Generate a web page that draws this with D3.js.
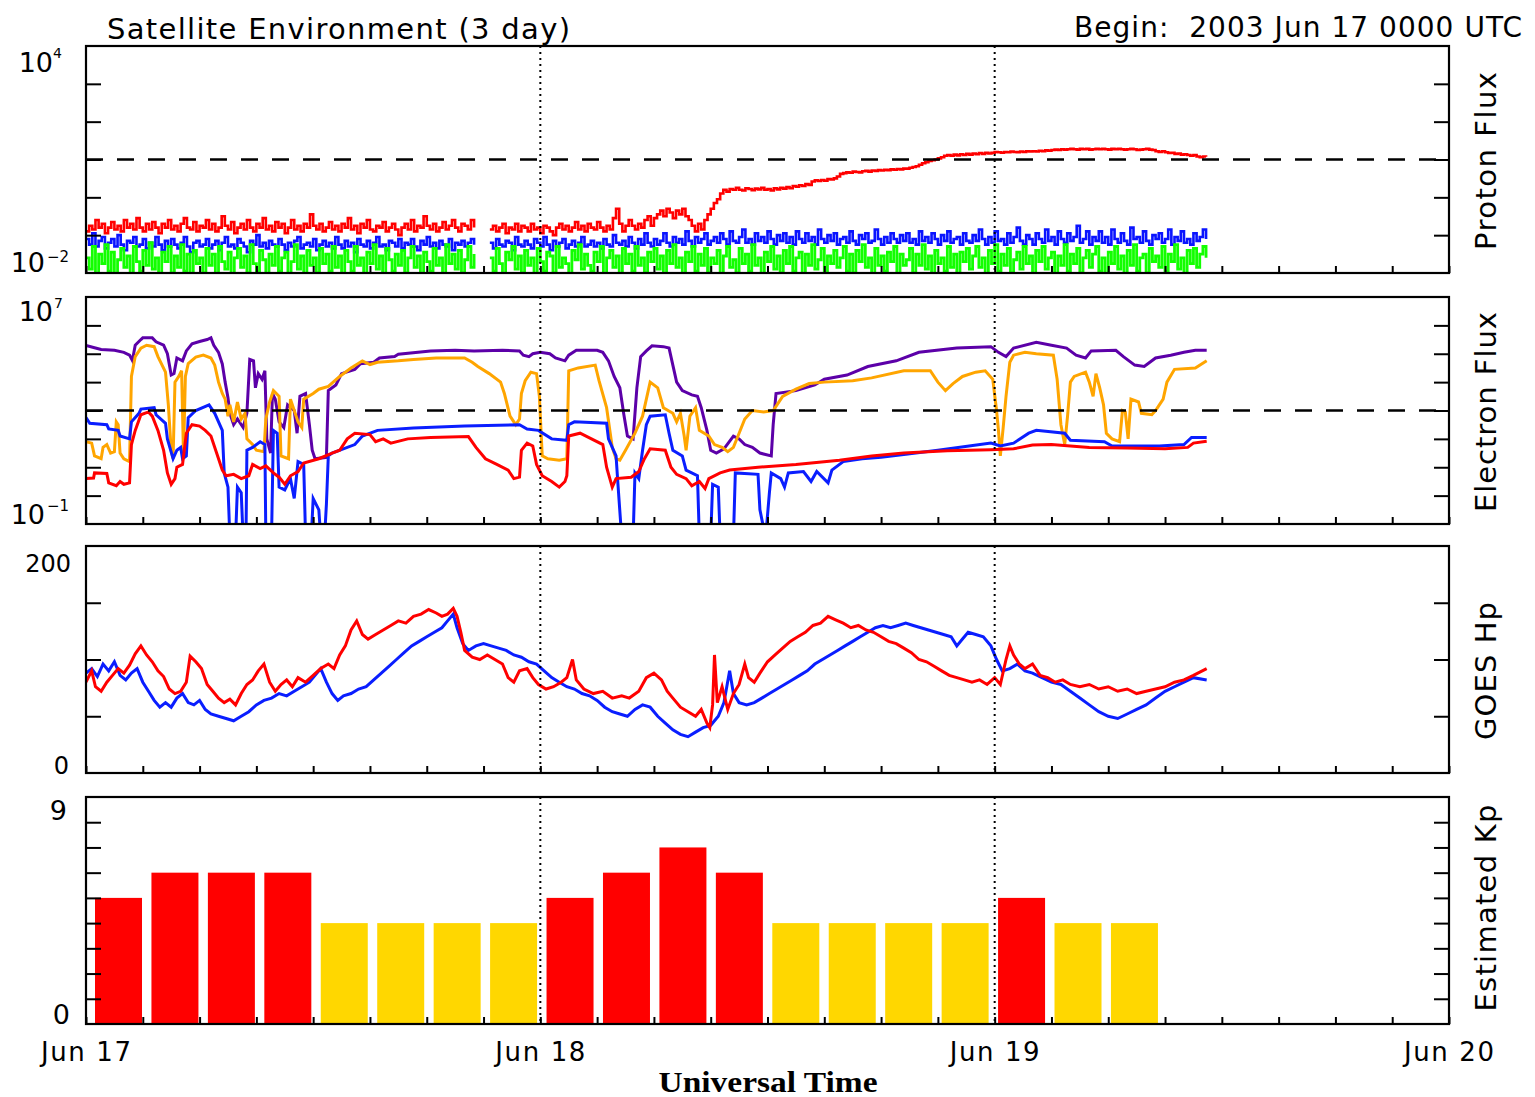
<!DOCTYPE html>
<html><head><meta charset="utf-8">
<script src="https://cdn.jsdelivr.net/npm/d3@7"></script>
<style>
body{margin:0;background:#fff}
svg{display:block}
text{fill:#000}
</style>
</head><body>
<svg id="c" width="1535" height="1097"></svg>
<script>
// ---------------- DATA ----------------
// Proton flux (log10 pfu), sampled every 10 minutes from Jun 17 00:00 UTC
const protonStepHours = 1/6;
const protonRedLog = [
-0.9,-0.75,-0.85,-0.6,-0.8,-0.7,-0.95,-0.8,-0.65,-0.85,-0.75,-0.9,-0.6,-0.8,-0.7,-0.85,-0.55,-0.8,-0.9,-0.7,
-0.85,-0.65,-0.8,-0.95,-0.7,-0.8,-0.6,-0.85,-0.75,-0.9,-0.7,-0.55,-0.8,-0.85,-0.65,-0.9,-0.75,-0.8,-0.6,-0.85,
-0.7,-0.9,-0.8,-0.5,-0.75,-0.85,-0.65,-0.95,-0.8,-0.7,-0.85,-0.6,-0.8,-0.9,-0.7,-0.8,-0.55,-0.85,-0.75,-0.9,
-0.65,-0.8,-0.7,-0.95,-0.8,-0.6,-0.85,-0.75,-0.9,-0.7,-0.8,-0.45,-0.75,-0.85,-0.7,-0.9,-0.8,-0.65,-0.85,-0.75,
-0.9,-0.7,-0.8,-0.55,-0.85,-0.75,-0.95,-0.7,-0.8,-0.6,-0.85,-0.9,-0.75,-0.8,-0.65,-0.9,-0.8,-0.7,-0.85,-1.0,
-0.8,-0.7,-0.85,-0.6,-0.9,-0.75,-0.8,-0.5,-0.75,-0.85,-0.7,-0.9,-0.8,-0.65,-0.85,-0.75,-0.6,-0.8,-0.9,-0.7,
-0.75,-0.85,-0.6,-0.8,null,null,null,null,-0.85,-0.75,-0.9,-0.8,-0.7,-0.95,-0.8,-0.85,-0.7,-0.9,-0.75,-0.8,
-0.9,-0.7,-0.85,-0.8,-0.95,-0.75,-0.8,-0.9,-1.0,-0.8,-0.7,-0.85,-0.75,-0.9,-0.8,-0.65,-0.85,-0.75,-0.9,-0.7,
-0.8,-0.85,-0.65,-0.8,-0.9,-0.75,-0.85,-0.55,-0.3,-0.7,-0.9,-0.75,-0.6,-0.75,-0.85,-0.7,-0.8,-0.6,-0.5,-0.75,
-0.55,-0.45,-0.35,-0.5,-0.3,-0.4,-0.55,-0.35,-0.45,-0.3,-0.5,-0.6,-0.75,-0.9,-0.7,-0.85,-0.6,-0.45,-0.3,-0.15,
-0.05,0.1,0.2,0.15,0.22,0.2,0.25,0.2,0.18,0.24,0.22,0.19,0.23,0.21,0.25,0.2,0.22,0.18,0.24,0.21,
0.25,0.23,0.27,0.24,0.3,0.28,0.32,0.3,0.35,0.33,0.42,0.45,0.43,0.46,0.44,0.48,0.47,0.5,0.55,0.62,
0.64,0.66,0.65,0.68,0.67,0.66,0.69,0.7,0.68,0.71,0.7,0.72,0.71,0.73,0.72,0.74,0.73,0.75,0.74,0.76,
0.76,0.78,0.8,0.82,0.86,0.9,0.93,0.96,0.98,1.0,1.03,1.06,1.1,1.12,1.1,1.13,1.11,1.14,1.12,1.15,
1.13,1.16,1.14,1.17,1.15,1.18,1.16,1.18,1.2,1.19,1.18,1.2,1.19,1.21,1.2,1.19,1.21,1.2,1.22,1.21,
1.22,1.21,1.23,1.22,1.24,1.23,1.25,1.26,1.25,1.27,1.26,1.27,1.28,1.27,1.26,1.28,1.27,1.28,1.26,1.27,
1.28,1.27,1.28,1.27,1.26,1.28,1.27,1.28,1.27,1.26,1.27,1.28,1.27,1.25,1.26,1.27,1.28,1.26,1.25,1.22,
1.2,1.22,1.19,1.17,1.18,1.15,1.16,1.13,1.14,1.12,1.1,1.12,1.08,1.06,1.08,1.07];
const protonBlueLog = [
-1.1,-1.25,-0.95,-1.3,-1.15,-1.05,-1.35,-1.2,-1.1,-1.3,-1.0,-1.25,-1.4,-1.15,-1.2,-1.05,-1.3,-1.25,-1.1,-1.35,
-1.2,-1.3,-1.05,-1.25,-1.4,-1.15,-1.3,-1.1,-1.25,-1.35,-1.2,-1.05,-1.3,-1.45,-1.2,-1.15,-1.3,-1.25,-1.1,-1.35,
-1.25,-1.15,-1.4,-1.2,-1.05,-1.3,-1.25,-1.35,-1.1,-1.2,-1.3,-1.45,-1.15,-1.25,-1.0,-1.3,-1.2,-1.35,-1.15,-1.25,
-1.3,-1.1,-1.25,-1.4,-1.2,-1.3,-1.15,-1.05,-1.35,-1.25,-1.2,-1.3,-1.1,-1.4,-1.25,-1.15,-1.3,-1.2,-1.35,-1.05,
-1.25,-1.35,-1.15,-1.3,-1.2,-1.45,-1.1,-1.25,-1.3,-1.15,-1.35,-1.2,-1.05,-1.3,-1.25,-1.4,-1.15,-1.2,-1.3,-1.1,
-1.35,-1.2,-1.25,-1.1,-1.3,-1.4,-1.15,-1.25,-1.05,-1.3,-1.2,-1.35,-1.15,-1.25,-1.3,-1.1,-1.4,-1.2,-1.25,-1.15,
-1.3,-1.2,-1.1,-1.25,null,null,null,null,-1.2,-1.35,-1.1,-1.25,-1.3,-1.15,-1.2,-1.4,-1.05,-1.25,-1.3,-1.15,
-1.25,-1.35,-1.1,-1.2,-1.3,-1.05,-1.25,-1.4,-1.15,-1.3,-1.2,-1.1,-1.35,-1.25,-1.15,-1.3,-1.2,-1.05,-1.3,-1.25,
-1.15,-1.3,-1.2,-1.35,-1.1,-1.25,-1.3,-1.0,-1.2,-1.25,-1.15,-1.3,-1.05,-1.2,-1.35,-1.1,-1.25,-0.95,-1.2,-1.3,
-1.1,-1.25,-1.15,-0.95,-1.2,-1.3,-1.05,-1.2,-1.1,-1.25,-0.9,-1.15,-1.3,-1.05,-1.2,-1.1,-0.95,-1.25,-1.15,-1.05,
-1.2,-0.95,-1.1,-1.25,-0.9,-1.15,-1.2,-1.05,-0.85,-1.2,-1.1,-1.25,-0.95,-1.15,-1.05,-1.2,-0.9,-1.1,-1.25,-1.0,
-1.15,-0.95,-1.2,-1.05,-1.25,-0.9,-1.1,-1.2,-0.95,-1.15,-1.05,-1.25,-0.85,-1.1,-1.2,-1.0,-1.15,-0.95,-1.25,-1.1,
-1.05,-1.2,-0.9,-1.15,-1.25,-1.0,-1.1,-0.95,-1.2,-1.15,-0.85,-1.1,-1.25,-1.05,-1.2,-0.95,-1.1,-1.2,-1.0,-1.15,
-0.95,-1.2,-1.1,-1.25,-0.9,-1.15,-1.05,-1.2,-0.95,-1.1,-1.25,-1.0,-1.15,-0.9,-1.2,-1.1,-1.05,-1.25,-0.95,-1.15,
-1.2,-1.0,-1.15,-0.85,-1.1,-1.25,-1.05,-1.2,-0.9,-1.15,-1.1,-1.25,-0.95,-1.2,-1.05,-0.8,-1.15,-1.25,-1.0,-1.1,
-1.25,-0.95,-1.1,-1.2,-0.85,-1.15,-1.05,-1.25,-0.9,-1.1,-1.2,-0.95,-1.15,-1.05,-0.75,-1.2,-1.1,-0.9,-1.25,-1.05,
-1.15,-0.9,-1.2,-1.05,-1.25,-0.85,-1.1,-1.2,-0.95,-1.15,-1.25,-0.8,-1.1,-1.05,-1.2,-0.9,-1.15,-1.25,-1.0,-1.1,
-0.95,-1.2,-1.1,-0.85,-1.25,-1.05,-1.15,-0.9,-1.2,-1.1,-1.25,-0.95,-1.15,-1.05,-0.85,-1.1];
const protonGreenLog = [
-1.6,-1.9,-1.3,-2.1,-1.5,-1.75,-1.25,-1.95,-1.45,-2.2,-1.65,-1.35,-1.85,-1.55,-2.05,-1.3,-1.7,-1.95,-1.4,-1.8,
-1.2,-1.9,-1.6,-2.1,-1.45,-1.7,-1.3,-2.0,-1.55,-1.85,-1.25,-1.95,-1.5,-2.15,-1.4,-1.75,-1.6,-2.0,-1.35,-1.8,
-1.5,-2.05,-1.3,-1.7,-1.9,-1.45,-2.2,-1.6,-1.35,-1.85,-1.55,-2.0,-1.25,-1.75,-1.95,-1.4,-1.65,-2.1,-1.5,-1.8,
-1.3,-1.95,-1.6,-1.45,-2.05,-1.7,-1.25,-1.9,-1.55,-2.15,-1.4,-1.8,-1.6,-2.0,-1.35,-1.75,-1.5,-1.95,-1.3,-1.85,
-1.55,-2.1,-1.4,-1.7,-1.95,-1.3,-1.8,-1.6,-2.05,-1.45,-1.75,-1.25,-1.9,-1.55,-2.2,-1.35,-1.65,-1.95,-1.5,-1.8,
-1.4,-2.0,-1.6,-1.3,-1.85,-1.55,-2.1,-1.45,-1.7,-1.95,-1.35,-1.8,-1.6,-2.05,-1.25,-1.75,-1.5,-1.9,-1.4,-2.0,
-1.65,-1.3,-1.85,-1.5,null,null,null,null,-1.6,-1.95,-1.35,-1.75,-2.1,-1.45,-1.65,-1.3,-1.9,-1.55,-2.0,-1.4,
-1.8,-1.6,-2.15,-1.35,-1.7,-1.95,-1.45,-1.55,-2.0,-1.3,-1.85,-1.6,-1.75,-2.1,-1.4,-1.65,-1.25,-1.9,-1.5,-1.8,
-1.95,-1.45,-1.7,-1.3,-2.05,-1.6,-1.4,-1.85,-1.55,-2.2,-1.35,-1.75,-1.5,-1.95,-1.3,-1.8,-1.6,-2.0,-1.45,-1.7,
-1.35,-1.9,-1.55,-2.05,-1.4,-1.75,-1.25,-1.85,-1.6,-2.1,-1.45,-1.7,-1.3,-1.95,-1.5,-1.8,-1.35,-2.0,-1.6,-1.75,
-1.4,-2.1,-1.55,-1.3,-1.85,-1.65,-2.0,-1.35,-1.75,-1.5,-1.95,-1.25,-1.8,-1.6,-2.15,-1.45,-1.7,-1.3,-1.9,-1.55,
-2.0,-1.4,-1.75,-1.3,-1.95,-1.6,-1.45,-2.05,-1.5,-1.8,-1.25,-1.9,-1.65,-1.35,-2.1,-1.55,-1.75,-1.4,-1.85,-1.6,
-1.3,-1.95,-1.5,-2.0,-1.4,-1.7,-1.25,-1.85,-1.6,-2.1,-1.35,-1.8,-1.55,-1.95,-1.45,-1.7,-1.3,-2.05,-1.5,-1.8,
-1.65,-1.35,-2.0,-1.5,-1.8,-1.25,-1.9,-1.55,-2.15,-1.4,-1.75,-1.6,-1.95,-1.3,-1.85,-1.5,-2.05,-1.45,-1.7,-1.35,
-1.9,-1.55,-1.3,-1.85,-1.6,-2.1,-1.4,-1.75,-1.25,-1.95,-1.5,-1.8,-1.35,-2.0,-1.65,-1.45,-1.9,-1.3,-1.75,-1.55,
-2.05,-1.4,-1.7,-1.3,-1.9,-1.6,-1.45,-2.1,-1.55,-1.8,-1.25,-1.95,-1.5,-1.75,-1.35,-2.0,-1.6,-1.4,-1.85,-1.5,
-1.3,-1.95,-1.6,-2.05,-1.45,-1.75,-1.3,-1.9,-1.55,-2.1,-1.4,-1.8,-1.25,-1.95,-1.6,-1.5,-2.0,-1.35,-1.7,-1.55,
-1.85,-1.3,-1.95,-1.5,-1.7,-1.25,-1.9,-1.6,-2.05,-1.4,-1.75,-1.35,-1.85,-1.5,-1.3,-1.6];

// Electron flux: [hour since Jun 17 00 UTC, log10 flux]
const electronPurple = [[0,5.29],[0.4,5.22],[0.8,5.15],[1.5,5.12],[2.0,5.05],[2.3,4.95],[2.45,4.76],[2.6,5.3],[2.9,5.5],[3.0,5.56],[3.5,5.56],[3.7,5.42],[4.1,5.3],[4.3,5.0],[4.5,4.25],[4.65,4.3],[4.8,4.85],[5.1,4.75],[5.3,5.1],[5.6,5.35],[6.0,5.43],[6.4,5.5],[6.6,5.56],[6.75,5.3],[7.0,5.05],[7.2,4.64],[7.35,4.0],[7.5,3.45],[7.6,2.9],[7.8,2.5],[8.0,2.7],[8.3,2.4],[8.5,2.9],[8.65,4.8],[8.85,4.75],[8.95,3.8],[9.1,4.3],[9.3,4.1],[9.45,4.4],[9.55,2.0],[9.75,1.5],[9.85,3.6],[10.0,3.4],[10.2,2.6],[10.45,2.4],[10.65,3.2],[11.0,3.0],[11.15,2.2],[11.3,3.5],[11.6,3.6],[11.8,2.5],[11.95,1.6],[12.1,1.3],[12.7,1.35],[12.8,3.7],[13.2,3.9],[13.5,4.3],[14.2,4.45],[14.5,4.65],[15.2,4.7],[15.5,4.85],[16.3,4.9],[16.5,4.98],[18.2,5.1],[19.5,5.12],[20.5,5.1],[22.0,5.12],[22.9,5.1],[23.1,4.95],[23.4,4.9],[23.6,5.0],[24.0,5.05],[24.5,5.0],[24.8,4.85],[25.3,4.75],[25.5,4.95],[25.9,5.12],[27.0,5.12],[27.3,5.05],[27.6,4.75],[27.9,4.2],[28.2,3.8],[28.4,2.9],[28.6,2.1],[28.9,2.0],[29.1,3.8],[29.3,4.9],[29.6,5.1],[29.9,5.28],[30.5,5.25],[30.8,5.2],[31.0,4.6],[31.2,4.0],[31.5,3.7],[32.0,3.55],[32.3,3.5],[32.5,3.1],[32.8,2.3],[33.0,1.6],[33.3,1.5],[33.7,1.65],[34.2,2.1],[34.5,2.0],[34.8,1.8],[35.2,1.7],[35.6,1.5],[36.2,1.4],[36.3,2.5],[36.45,3.6],[37.5,3.7],[38.5,3.9],[39.0,4.1],[40.2,4.25],[41.3,4.55],[42.8,4.75],[44.0,5.05],[46.0,5.2],[47.8,5.25],[48.2,5.05],[48.6,4.9],[49.0,5.2],[50.2,5.4],[51.0,5.3],[51.8,5.2],[52.3,4.95],[52.8,4.85],[53.1,5.1],[54.4,5.12],[54.8,4.9],[55.4,4.6],[55.9,4.55],[56.5,4.85],[57.3,4.95],[58.0,5.05],[58.6,5.12],[59.2,5.12]];
const electronOrange = [[0,1.9],[0.3,1.85],[0.45,1.4],[0.8,1.3],[0.9,1.7],[1.1,1.8],[1.3,1.5],[1.5,1.55],[1.6,2.6],[1.7,2.5],[1.8,1.5],[2.0,1.3],[2.3,1.2],[2.4,4.2],[2.6,4.9],[2.9,5.2],[3.2,5.3],[3.6,5.25],[3.8,4.9],[4.2,4.35],[4.35,3.2],[4.5,1.6],[4.6,1.3],[4.7,4.0],[4.9,4.2],[5.05,4.4],[5.15,1.4],[5.25,4.2],[5.4,4.65],[5.8,4.88],[6.2,4.95],[6.6,4.85],[6.8,4.6],[7.0,4.0],[7.2,3.6],[7.35,3.4],[7.5,2.8],[7.6,3.2],[7.8,2.6],[8.0,3.3],[8.2,2.7],[8.4,2.9],[8.5,2.0],[8.8,1.8],[9.0,1.6],[9.4,1.55],[9.5,2.7],[9.7,3.3],[9.9,3.7],[10.2,3.5],[10.3,1.4],[10.7,1.3],[10.8,3.4],[11.0,3.0],[11.2,2.6],[11.4,2.4],[11.5,3.4],[12.0,3.6],[12.3,3.75],[12.8,3.85],[13.4,4.2],[14.0,4.5],[14.6,4.75],[15.0,4.62],[15.4,4.7],[16.5,4.75],[17.3,4.8],[18.5,4.85],[20.0,4.85],[20.4,4.7],[20.7,4.55],[21.3,4.3],[21.9,4.0],[22.1,3.6],[22.4,2.8],[22.7,2.5],[22.9,2.7],[23.0,3.6],[23.2,4.05],[23.5,4.35],[23.8,4.3],[23.95,3.5],[24.1,1.4],[24.4,1.3],[25.0,1.25],[25.4,1.3],[25.5,4.4],[26.0,4.5],[26.9,4.6],[27.1,4.05],[27.5,3.1],[27.8,1.7],[28.0,1.3],[28.2,1.25],[28.5,1.6],[29.0,2.2],[29.4,2.8],[29.8,4.0],[30.2,3.8],[30.5,3.1],[31.0,2.9],[31.2,2.6],[31.4,2.9],[31.6,2.1],[31.7,1.6],[31.9,2.8],[32.2,3.1],[32.4,2.3],[32.9,2.1],[33.2,1.8],[33.6,1.7],[33.9,1.55],[34.2,1.7],[34.5,2.2],[34.8,2.7],[35.2,3.0],[35.8,2.95],[36.3,3.0],[36.8,3.5],[37.5,3.75],[38.2,3.95],[39.0,4.0],[40.5,4.05],[41.5,4.15],[43.2,4.4],[44.6,4.4],[45.0,4.0],[45.4,3.7],[45.8,3.95],[46.3,4.2],[47.0,4.35],[47.5,4.4],[47.9,4.1],[48.1,3.0],[48.2,2.3],[48.3,1.4],[48.45,2.4],[48.6,3.5],[48.8,4.7],[49.0,4.95],[49.6,5.05],[50.2,5.0],[51.1,4.95],[51.3,4.1],[51.5,2.5],[51.7,1.8],[51.85,2.8],[52.0,4.0],[52.2,4.2],[52.8,4.35],[53.0,4.0],[53.2,3.5],[53.35,4.3],[53.55,3.8],[53.75,3.2],[53.9,2.2],[54.2,2.0],[54.6,1.9],[54.75,3.0],[54.9,2.95],[55.05,2.0],[55.2,3.4],[55.6,3.3],[55.75,2.9],[56.3,2.85],[56.5,3.0],[56.9,3.4],[57.1,4.0],[57.5,4.45],[58.6,4.5],[59.2,4.75]];
const electronBlue = [[0,2.75],[0.2,2.55],[1.1,2.5],[1.2,2.35],[1.7,2.3],[1.8,2.1],[2.3,2.0],[2.4,2.6],[2.8,2.9],[2.9,3.05],[3.6,3.1],[3.7,2.85],[4.2,2.55],[4.3,2.0],[4.6,1.3],[4.8,1.6],[5.0,1.7],[5.1,1.3],[5.3,1.4],[5.4,2.75],[5.8,3.0],[6.5,3.2],[6.8,2.9],[7.2,2.3],[7.3,0.8],[7.5,0.3],[7.6,-1.5],[7.9,-1.5],[8.0,0.3],[8.2,0.1],[8.3,-1.5],[8.45,-1.5],[8.5,1.6],[8.8,1.7],[9.2,1.9],[9.45,1.8],[9.5,-1.5],[9.8,-1.5],[9.9,2.3],[10.1,2.2],[10.2,0.3],[10.5,0.2],[10.8,0.6],[11.0,-0.1],[11.2,1.2],[11.5,1.1],[11.6,-1.5],[11.9,-1.5],[12.0,-0.1],[12.3,-0.5],[12.4,-1.5],[12.6,-1.5],[12.7,-0.3],[12.8,1.4],[13.0,1.5],[14.2,1.8],[14.6,2.1],[15.4,2.3],[17.3,2.38],[20.0,2.45],[22.9,2.5],[23.3,2.35],[23.9,2.3],[24.6,2.0],[25.4,1.95],[25.5,2.5],[25.8,2.6],[27.5,2.55],[27.6,2.0],[28.0,1.4],[28.1,0.4],[28.3,-1.5],[28.9,-1.5],[29.0,0.8],[29.2,0.6],[29.4,1.6],[29.6,2.5],[29.8,2.8],[30.6,2.85],[30.8,2.2],[31.0,1.6],[31.5,1.4],[31.7,0.9],[32.3,0.7],[32.4,-1.5],[33.0,-1.5],[33.1,0.4],[33.4,0.3],[33.5,-1.5],[34.2,-1.5],[34.3,0.8],[35.5,0.75],[35.6,-0.5],[35.9,-1.5],[36.1,0.1],[36.2,0.8],[36.7,0.6],[36.9,0.3],[37.1,0.8],[37.9,0.85],[38.3,0.5],[38.6,0.85],[39.2,0.45],[39.4,0.9],[40.0,1.2],[41.0,1.3],[42.0,1.35],[43.2,1.45],[45.0,1.6],[47.8,1.85],[48.3,1.75],[49.0,1.85],[49.8,2.2],[50.2,2.3],[51.7,2.2],[52.0,1.95],[53.8,1.9],[54.2,1.75],[56.7,1.75],[58.0,1.8],[58.4,2.05],[59.2,2.05]];
const electronRed = [[0,0.6],[0.4,0.62],[0.45,0.8],[1.1,0.78],[1.2,0.45],[1.6,0.35],[1.8,0.5],[2.0,0.4],[2.3,0.45],[2.4,1.8],[2.6,2.3],[2.9,2.85],[3.3,2.95],[3.5,2.8],[3.8,2.3],[4.1,1.6],[4.3,0.8],[4.5,0.4],[4.7,0.6],[4.8,1.0],[5.1,1.1],[5.3,2.2],[5.6,2.5],[6.0,2.45],[6.3,2.3],[6.6,2.1],[6.9,1.5],[7.2,0.9],[7.4,0.7],[7.8,0.75],[8.2,0.6],[8.6,0.7],[8.8,1.1],[9.2,0.95],[9.5,1.05],[9.9,0.8],[10.2,0.65],[10.5,0.4],[10.8,0.7],[11.2,0.85],[11.5,1.15],[12.3,1.3],[13.0,1.5],[13.4,1.6],[13.8,2.0],[14.2,2.2],[15.0,2.15],[15.3,1.9],[15.7,2.0],[16.1,1.85],[17.0,2.0],[18.2,2.05],[20.2,2.08],[20.6,1.7],[21.1,1.3],[21.7,1.1],[22.3,0.9],[22.6,0.6],[22.9,0.65],[23.0,1.6],[23.3,1.85],[23.6,1.75],[23.8,1.1],[24.1,0.7],[24.6,0.5],[25.0,0.3],[25.3,0.5],[25.4,0.7],[25.5,2.1],[26.1,2.2],[26.7,2.0],[27.3,1.8],[27.5,1.0],[27.8,0.3],[28.0,0.6],[28.8,0.65],[29.2,0.85],[29.5,1.3],[29.8,1.65],[30.6,1.6],[30.9,1.0],[31.2,0.75],[31.7,0.6],[32.0,0.35],[32.4,0.5],[32.7,0.25],[32.9,0.6],[33.5,0.8],[34.0,0.9],[35.5,1.0],[37.5,1.1],[39.8,1.25],[41.5,1.4],[43.2,1.5],[45.5,1.58],[47.8,1.62],[49.0,1.65],[50.0,1.78],[51.0,1.8],[53.0,1.7],[55.0,1.68],[57.0,1.65],[58.2,1.7],[58.5,1.85],[59.2,1.92]];

// GOES Hp (nT): [hour, value]
const hpRed = [[0,80],[0.3,90],[0.5,76],[0.8,72],[1.1,80],[1.4,86],[1.7,92],[2.0,88],[2.3,95],[2.6,105],[2.9,112],[3.2,104],[3.5,98],[3.8,90],[4.1,85],[4.4,74],[4.7,70],[5.0,72],[5.3,80],[5.5,103],[5.8,98],[6.1,92],[6.4,78],[6.7,72],[7.0,66],[7.3,62],[7.6,65],[7.9,60],[8.2,70],[8.5,78],[8.8,82],[9.1,90],[9.4,96],[9.7,80],[10.0,72],[10.3,78],[10.6,82],[10.9,76],[11.2,84],[11.6,80],[12.0,86],[12.4,92],[12.8,96],[13.1,92],[13.4,104],[13.7,112],[14.0,126],[14.3,134],[14.6,122],[14.9,118],[15.3,122],[15.7,126],[16.1,130],[16.5,134],[16.9,132],[17.3,138],[17.7,140],[18.1,144],[18.5,141],[18.8,138],[19.1,140],[19.4,145],[19.6,138],[19.8,124],[20.0,108],[20.4,102],[20.8,100],[21.2,104],[21.6,100],[22.0,96],[22.3,84],[22.6,80],[22.9,90],[23.3,92],[23.6,84],[23.9,78],[24.3,74],[24.7,76],[25.1,80],[25.4,84],[25.7,100],[25.9,82],[26.3,74],[26.8,70],[27.3,72],[27.8,66],[28.3,68],[28.7,66],[29.2,72],[29.6,84],[30.0,88],[30.4,82],[30.7,72],[31.0,66],[31.4,58],[31.8,54],[32.2,50],[32.5,56],[32.8,44],[32.95,40],[33.1,60],[33.2,104],[33.35,62],[33.6,76],[33.9,56],[34.2,70],[34.5,78],[34.8,96],[35.0,84],[35.3,80],[35.6,88],[36.0,98],[36.4,104],[36.8,110],[37.2,116],[37.6,120],[38.0,124],[38.4,130],[38.8,132],[39.2,138],[39.6,135],[40.0,132],[40.4,128],[40.8,130],[41.2,126],[41.6,124],[42.0,120],[42.4,116],[42.8,114],[43.2,110],[43.6,106],[44.0,100],[44.4,98],[44.8,94],[45.2,90],[45.6,86],[46.0,84],[46.4,82],[46.8,80],[47.2,82],[47.6,78],[48.0,84],[48.3,78],[48.6,100],[48.8,112],[49.0,104],[49.3,96],[49.6,92],[50.0,96],[50.4,86],[50.8,84],[51.2,80],[51.6,82],[52.0,78],[52.5,76],[53.0,78],[53.5,74],[54.0,76],[54.5,72],[55.0,74],[55.5,70],[56.0,72],[56.5,74],[57.0,76],[57.5,80],[58.0,82],[58.5,86],[59.2,92]];
const hpBlue = [[0,88],[0.3,92],[0.6,85],[0.9,96],[1.2,90],[1.5,98],[1.8,86],[2.1,82],[2.4,88],[2.7,92],[3.0,80],[3.3,72],[3.6,64],[3.9,58],[4.2,62],[4.5,58],[4.8,66],[5.1,70],[5.4,62],[5.7,60],[6.0,64],[6.3,56],[6.6,52],[7.0,50],[7.4,48],[7.8,46],[8.2,50],[8.6,54],[9.0,60],[9.4,64],[9.8,66],[10.2,70],[10.6,68],[11.0,72],[11.4,76],[11.8,80],[12.1,86],[12.4,92],[12.7,80],[13.0,70],[13.3,64],[13.6,68],[14.0,70],[14.4,74],[14.8,76],[15.2,82],[15.6,88],[16.0,94],[16.4,100],[16.8,106],[17.2,112],[17.6,116],[18.0,120],[18.4,124],[18.8,128],[19.1,134],[19.4,140],[19.6,128],[19.9,114],[20.2,108],[20.6,112],[21.0,114],[21.4,112],[21.8,110],[22.2,108],[22.6,104],[23.0,102],[23.4,98],[23.8,96],[24.2,90],[24.6,84],[25.0,80],[25.4,76],[25.8,74],[26.2,70],[26.6,68],[27.0,64],[27.4,58],[27.8,54],[28.2,52],[28.6,50],[29.0,56],[29.4,60],[29.8,58],[30.2,50],[30.6,44],[31.0,38],[31.4,34],[31.8,32],[32.2,36],[32.6,40],[33.0,42],[33.4,50],[33.7,62],[34.0,90],[34.2,70],[34.5,62],[34.9,60],[35.3,62],[35.7,66],[36.1,70],[36.5,74],[36.9,78],[37.3,82],[37.7,86],[38.1,90],[38.5,96],[38.9,100],[39.3,104],[39.7,108],[40.1,112],[40.5,116],[40.9,120],[41.3,124],[41.7,128],[42.1,130],[42.5,128],[42.9,130],[43.3,132],[43.7,130],[44.1,128],[44.5,126],[44.9,124],[45.3,122],[45.7,120],[46.0,112],[46.3,118],[46.6,124],[47.0,122],[47.4,120],[47.8,112],[48.1,100],[48.4,90],[48.8,92],[49.2,96],[49.6,90],[50.0,88],[50.5,84],[51.0,80],[51.5,78],[52.0,72],[52.5,66],[53.0,60],[53.5,54],[54.0,50],[54.5,48],[55.0,52],[55.5,56],[56.0,60],[56.5,66],[57.0,72],[57.5,76],[58.0,80],[58.5,84],[59.2,82]];

// Estimated Kp, 3-hour bins from Jun 17 00 UTC
const kpValues = [5,6,6,6,4,4,4,4, 5,6,7,6,4,4,4,4, 5,4,4];

const dayLabels = ["Jun 17","Jun 18","Jun 19","Jun 20"];
const panelTitles = ["Proton Flux","Electron Flux","GOES Hp","Estimated Kp"];

// ---------------- DRAW ----------------
const svg = d3.select("#c");
const SANS = "DejaVu Sans, sans-serif";
const T0 = Date.UTC(2003,5,17);
const hr = h => new Date(T0 + h*3600000);
const L = 86, R = 1449;
const x = d3.scaleUtc().domain([hr(0), hr(72)]).range([L, R]);
const panels = [{top:46,bot:273},{top:297,bot:524},{top:546,bot:773},{top:797,bot:1024}];

const yP = d3.scaleLog().domain([1e-2,1e4]).range([panels[0].bot, panels[0].top]);
const yE = d3.scaleLog().domain([1e-1,1e7]).range([panels[1].bot, panels[1].top]);
const yH = d3.scaleLinear().domain([0,200]).range([panels[2].bot, panels[2].top]);
const yK = d3.scaleLinear().domain([0,9]).range([panels[3].bot, panels[3].top]);

const defs = svg.append("defs");
panels.forEach((p,i)=>{
  defs.append("clipPath").attr("id","clip"+i).append("rect")
    .attr("x",L).attr("y",p.top).attr("width",R-L).attr("height",p.bot-p.top);
});

const gridSeries = (arr, step) => arr.map((v,i)=>({t:hr(i*step), v: v==null?null:Math.pow(10,v)}));
const pairLog = arr => arr.map(([h,v])=>({t:hr(h), v:Math.pow(10,v)}));
const pairLin = arr => arr.map(([h,v])=>({t:hr(h), v}));

function drawLine(pi, data, yScale, color, width, curve){
  const line = d3.line().defined(d=>d.v!=null).x(d=>x(d.t)).y(d=>yScale(d.v)).curve(curve||d3.curveLinear);
  svg.append("path").datum(data).attr("clip-path",`url(#clip${pi})`)
    .attr("d",line).attr("fill","none").attr("stroke",color)
    .attr("stroke-width",width).attr("stroke-linejoin","miter").attr("stroke-linecap","butt");
}

// Kp bars
const kpG = svg.append("g").attr("clip-path","url(#clip3)");
kpG.selectAll("rect").data(kpValues).join("rect")
  .attr("x",(d,i)=>x(hr(i*3))+9-i*0.35)
  .attr("width",47)
  .attr("y",d=>yK(d)).attr("height",d=>yK(0)-yK(d))
  .attr("fill",d=>d>=5?"#ff0000":"#ffd700");

// Proton
drawLine(0, gridSeries(protonRedLog, protonStepHours), yP, "#ff0000", 2.6, d3.curveStepAfter);
drawLine(0, gridSeries(protonBlueLog, protonStepHours), yP, "#0a14ff", 2.6, d3.curveStepAfter);
drawLine(0, gridSeries(protonGreenLog, protonStepHours), yP, "#12ff00", 2.8, d3.curveStepAfter);
// Electron
drawLine(1, pairLog(electronPurple), yE, "#5c00a8", 3);
drawLine(1, pairLog(electronOrange), yE, "#ffa500", 3);
drawLine(1, pairLog(electronBlue), yE, "#0a1eff", 3);
drawLine(1, pairLog(electronRed), yE, "#ff0000", 3);
// Hp
drawLine(2, pairLin(hpBlue), yH, "#0a1eff", 3);
drawLine(2, pairLin(hpRed), yH, "#ff0000", 3);

// threshold dashed lines
[yP(10), yE(1000)].forEach(yy=>{
  svg.append("line").attr("x1",L).attr("x2",R).attr("y1",yy).attr("y2",yy)
    .attr("stroke","#000").attr("stroke-width",2.4).attr("stroke-dasharray","17,14");
});

// day separators (dotted)
panels.forEach(p=>{
  [24,48].forEach(h=>{
    svg.append("line").attr("x1",x(hr(h))).attr("x2",x(hr(h))).attr("y1",p.top).attr("y2",p.bot)
      .attr("stroke","#000").attr("stroke-width",2).attr("stroke-dasharray","2,4");
  });
});

// axes / frames
const yScales = [yP,yE,yH,yK];
const yTickVals = [[1e-1,1,10,100,1000],[1,10,100,1e3,1e4,1e5,1e6],[50,100,150],[1,2,3,4,5,6,7,8]];
panels.forEach((p,i)=>{
  const ys = yScales[i];
  const gl = svg.append("g").attr("transform",`translate(${L},0)`)
    .call(d3.axisLeft(ys).tickValues(yTickVals[i]).tickSize(-15).tickFormat(""));
  const gr = svg.append("g").attr("transform",`translate(${R},0)`)
    .call(d3.axisRight(ys).tickValues(yTickVals[i]).tickSize(-15).tickFormat(""));
  const gb = svg.append("g").attr("transform",`translate(0,${p.bot})`)
    .call(d3.axisBottom(x).ticks(d3.utcHour.every(3)).tickSize(-7).tickFormat(""));
  [gl,gr,gb].forEach(g=>{
    g.select(".domain").remove();
    g.selectAll("line").attr("stroke","#000").attr("stroke-width",2);
  });
  svg.append("rect").attr("x",L).attr("y",p.top).attr("width",R-L).attr("height",p.bot-p.top)
    .attr("fill","none").attr("stroke","#000").attr("stroke-width",2.2);
});

function txt(s, xx, yy, size, anchor){
  return svg.append("text").attr("x",xx).attr("y",yy).attr("font-size",size)
    .attr("text-anchor",anchor||"start").style("font-family",SANS).text(s);
}
// left tick labels
function powLabel(xr, base, exp, ex, ey, es){
  txt("10", xr, base, 27, "end");
  txt(exp, ex, ey, es, "start");
}
powLabel(53, 72, "4", 53, 58, 14);
powLabel(45, 272, "\u22122", 47, 262, 15);
powLabel(53, 321, "7", 54, 308, 14);
powLabel(45, 524, "\u22121", 47, 511, 15);
txt("200", 71, 572, 24, "end");
txt("0", 69, 774, 24, "end");
txt("9", 67, 820, 27, "end");
txt("0", 70, 1024, 27, "end");

// right panel titles
const titleCenters = [161,412,671,908];
const titleLens = [178,200,138,207];
panelTitles.forEach((s,i)=>{
  svg.append("text").attr("transform",`translate(1496,${titleCenters[i]}) rotate(-90)`)
    .attr("text-anchor","middle").attr("font-size",29).style("font-family",SANS)
    .attr("textLength",titleLens[i]).attr("lengthAdjust","spacing").text(s);
});

// day labels
dayLabels.forEach((s,i)=>{
  txt(s, x(hr(i*24)), 1061, 26, "middle").attr("textLength",90).attr("lengthAdjust","spacing");
});

// header texts
txt("Satellite Environment (3 day)", 107, 39, 29).attr("textLength",463).attr("lengthAdjust","spacing");
txt("Begin:\u00a0\u00a02003 Jun 17 0000 UTC", 1074, 37, 28).attr("textLength",448).attr("lengthAdjust","spacing");
svg.append("text").attr("x",768).attr("y",1092).attr("text-anchor","middle")
  .style("font-family","'Liberation Serif', serif").attr("font-weight","bold").attr("font-size",30)
  .attr("textLength",219).attr("lengthAdjust","spacingAndGlyphs").text("Universal Time");
</script>
</body></html>
